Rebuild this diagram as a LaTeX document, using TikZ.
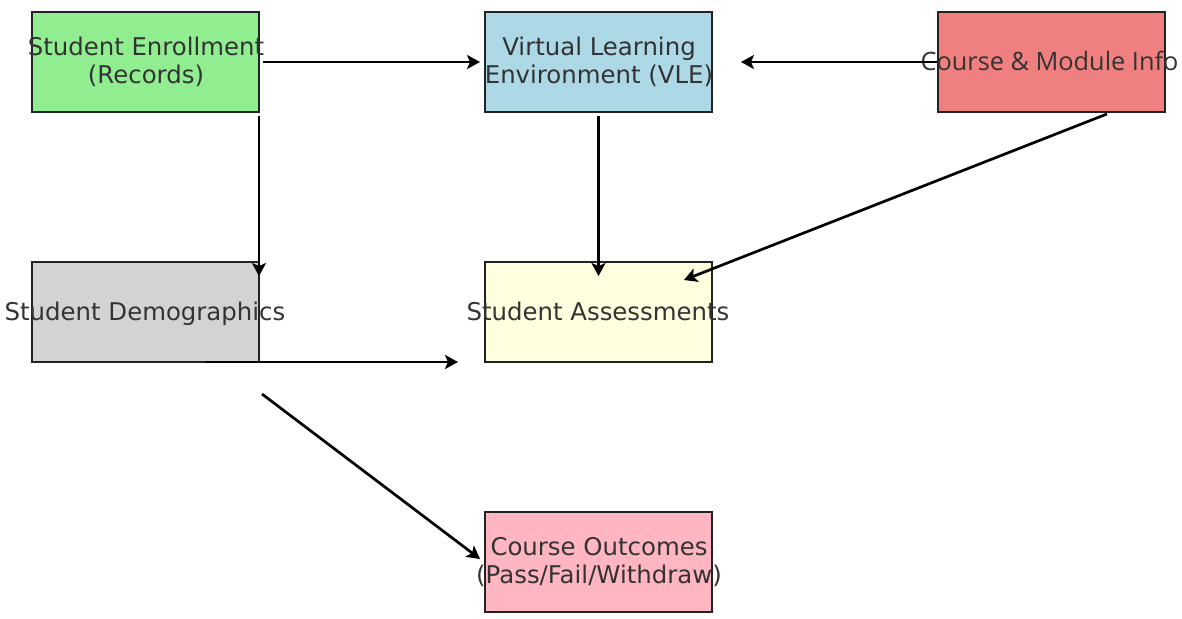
\documentclass[tikz,border=0pt]{standalone}
\usepackage{fontspec}
\setmainfont{DejaVu Sans}
\newfontfamily\infofont{Open Sans}
\usetikzlibrary{arrows.meta}
\definecolor{cgreen}{HTML}{90EE90}
\definecolor{cblue}{HTML}{ADD8E6}
\definecolor{ccoral}{HTML}{F08080}
\definecolor{cgray}{HTML}{D3D3D3}
\definecolor{cyellow}{HTML}{FFFFE0}
\definecolor{cpink}{HTML}{FFB6C1}
\definecolor{ctext}{HTML}{333333}
\definecolor{cborder}{HTML}{222222}
\tikzset{
  box/.style={draw=cborder, line width=1.9pt, minimum width=227pt, minimum height=100pt, inner sep=0pt},
  txt/.style={text=ctext, font=\fontsize{24.4}{28.5}\selectfont, align=center, inner sep=0pt},
  conn/.style={line width=2.7pt, -{Stealth[length=13pt,width=14pt,inset=3pt]}}
}
\begin{document}
\begin{tikzpicture}[x=1pt,y=-1pt]
\useasboundingbox (0,0) rectangle (1182,618);
\node[box, fill=cgreen] (enr) at (145.5,62) {};
\node[box, fill=cblue] (vle) at (598.5,62) {};
\node[box, fill=ccoral] (info) at (1051.5,62) {};
\node[box, fill=cgray] (dem) at (145.5,312) {};
\node[box, fill=cyellow] (ass) at (598.5,312) {};
\node[box, fill=cpink] (out) at (598.5,562) {};
\node[txt] (tenr) at (146,62) {Student Enrollment\\(Records)};
\node[txt] (tvle) at (599,62) {Virtual Learning\\Environment (VLE)};
\node[txt, font=\infofont\fontsize{25.3}{28}\selectfont] (tinfo) at (1049.5,61) {Course \& Module Info};
\node[txt, anchor=base] (tdem) at (145,320) {Student Demographics};
\node[txt, anchor=base] (tass) at (598,320) {Student Assessments};
\node[txt] (tout) at (599,562) {Course Outcomes\\(Pass/Fail/Withdraw)};
\coordinate (c1) at (205,362);
\coordinate (c2) at (458,362);
\coordinate (c3) at (262,394);
\draw[conn] ([xshift=3pt]enr.east) -- ([xshift=-4pt]vle.west);
\draw[conn] (info.west) -- ([xshift=28pt]vle.east);
\draw[conn] ([yshift=-3pt,xshift=113.5pt]enr.south) -- ([yshift=-15pt,xshift=113.5pt]dem.north);
\draw[conn] ([yshift=-3pt]vle.south) -- ([yshift=-15pt]ass.north);
\draw[conn] ([xshift=55.5pt,yshift=-1pt]info.south) -- ([xshift=-29pt,yshift=32pt]ass.east);
\draw[conn] (c1) -- (c2);
\draw[conn] (c3) -- ([xshift=-4pt,yshift=3pt]out.west);
\end{tikzpicture}
\end{document}
